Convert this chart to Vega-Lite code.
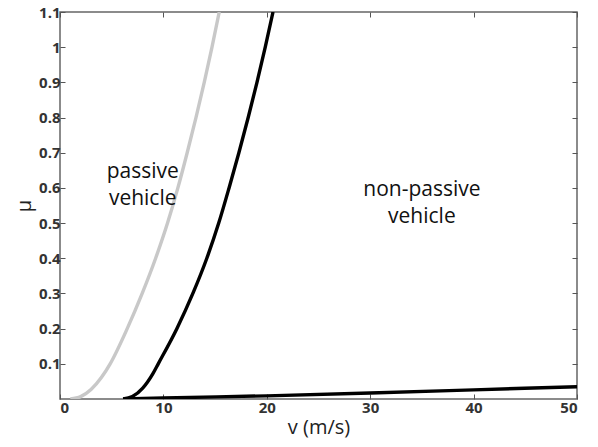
{
  "$schema": "https://vega.github.io/schema/vega-lite/v6.json",
  "width": 517,
  "height": 387,
  "autosize": {"type": "none"},
  "padding": {"left": 60, "top": 12, "right": 21, "bottom": 48},
  "background": "white",
  "config": {
    "view": {"stroke": "#666", "strokeWidth": 1.5},
    "font": "Open Sans",
    "axis": {"domain": false, "grid": false, "tickColor": "#555", "tickSize": -5, "labelFont": "Open Sans", "labelFontSize": 15, "labelFontWeight": "bold", "labelColor": "#333", "titleFont": "Open Sans", "titleFontSize": 20, "titleFontWeight": "normal", "titleColor": "#222"}
  },
  "datasets": {
    "curves": [
      {"s": "gray", "v": 1.0, "mu": 0},
      {"s": "gray", "v": 2, "mu": 0.0067},
      {"s": "gray", "v": 3, "mu": 0.027},
      {"s": "gray", "v": 4, "mu": 0.061},
      {"s": "gray", "v": 4.85, "mu": 0.1},
      {"s": "gray", "v": 6.5, "mu": 0.2},
      {"s": "gray", "v": 7.95, "mu": 0.3},
      {"s": "gray", "v": 9.25, "mu": 0.4},
      {"s": "gray", "v": 10.4, "mu": 0.5},
      {"s": "gray", "v": 11.4, "mu": 0.6},
      {"s": "gray", "v": 12.3, "mu": 0.7},
      {"s": "gray", "v": 13.15, "mu": 0.8},
      {"s": "gray", "v": 13.95, "mu": 0.9},
      {"s": "gray", "v": 14.7, "mu": 1.0},
      {"s": "gray", "v": 15.4, "mu": 1.1},
      {"s": "black", "v": 6.1, "mu": 0},
      {"s": "black", "v": 7, "mu": 0.007},
      {"s": "black", "v": 8, "mu": 0.031},
      {"s": "black", "v": 9, "mu": 0.073},
      {"s": "black", "v": 9.5, "mu": 0.1},
      {"s": "black", "v": 11.3, "mu": 0.2},
      {"s": "black", "v": 12.85, "mu": 0.3},
      {"s": "black", "v": 14.2, "mu": 0.4},
      {"s": "black", "v": 15.35, "mu": 0.5},
      {"s": "black", "v": 16.35, "mu": 0.6},
      {"s": "black", "v": 17.3, "mu": 0.7},
      {"s": "black", "v": 18.2, "mu": 0.8},
      {"s": "black", "v": 19.05, "mu": 0.9},
      {"s": "black", "v": 19.85, "mu": 1.0},
      {"s": "black", "v": 20.6, "mu": 1.1},
      {"s": "base", "v": 6.1, "mu": 0},
      {"s": "base", "v": 10, "mu": 0.003},
      {"s": "base", "v": 20, "mu": 0.009},
      {"s": "base", "v": 30, "mu": 0.017},
      {"s": "base", "v": 40, "mu": 0.026},
      {"s": "base", "v": 50, "mu": 0.035}
    ],
    "labels": [
      {"v": 8.0, "mu": 0.645, "t": "passive\nvehicle"},
      {"v": 35.0, "mu": 0.595, "t": "non-passive\nvehicle"}
    ]
  },
  "layer": [
    {
      "data": {"name": "curves"},
      "mark": {"type": "line", "strokeWidth": 3.4, "clip": true, "interpolate": "monotone"},
      "encoding": {
        "x": {"field": "v", "type": "quantitative", "scale": {"domain": [0, 50], "nice": false}, "axis": {"values": [0, 10, 20, 30, 40, 50], "title": "v (m/s)", "titlePadding": 2, "labelPadding": 6}},
        "y": {"field": "mu", "type": "quantitative", "scale": {"domain": [0, 1.1], "nice": false}, "axis": {"values": [0.1, 0.2, 0.3, 0.4, 0.5, 0.6, 0.7, 0.8, 0.9, 1, 1.1], "format": "~g", "title": "μ", "titlePadding": 4, "labelPadding": 5}},
        "detail": {"field": "s"},
        "color": {"field": "s", "type": "nominal", "scale": {"domain": ["gray", "black", "base"], "range": ["#c8c8c8", "#000000", "#000000"]}, "legend": null}
      }
    },
    {
      "data": {"name": "labels"},
      "mark": {"type": "text", "fontSize": 21, "lineBreak": "\n", "lineHeight": 27, "align": "center", "baseline": "middle", "color": "#111", "font": "Open Sans"},
      "encoding": {
        "x": {"field": "v", "type": "quantitative", "axis": null},
        "y": {"field": "mu", "type": "quantitative", "axis": null},
        "text": {"field": "t"}
      }
    },
    {
      "data": {"name": "labels"},
      "mark": {"type": "point", "opacity": 0},
      "encoding": {
        "x": {"field": "v", "type": "quantitative", "axis": {"orient": "top", "values": [0, 10, 20, 30, 40, 50], "labels": false, "title": null}},
        "y": {"field": "mu", "type": "quantitative", "axis": {"orient": "right", "values": [0.1, 0.2, 0.3, 0.4, 0.5, 0.6, 0.7, 0.8, 0.9, 1, 1.1], "labels": false, "title": null}}
      }
    }
  ],
  "resolve": {"axis": {"x": "independent", "y": "independent"}}
}
